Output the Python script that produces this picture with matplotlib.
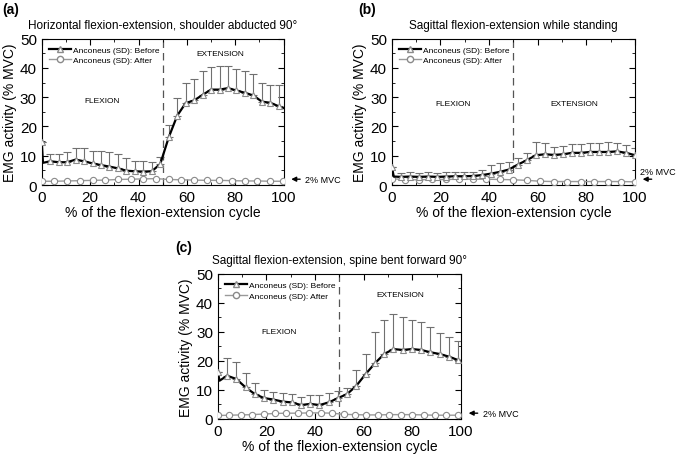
import matplotlib
matplotlib.use("Agg")
import matplotlib.pyplot as plt
from matplotlib.ticker import MultipleLocator
import numpy as np

plt.rcParams['font.family'] = ['Liberation Sans', 'DejaVu Sans']

# ============================ DATA ============================
# (a) horizontal flexion-extension, shoulder abducted 90
a_before_x = np.arange(29) * 3.5
a_before = [14.6, 8.1, 7.8, 7.8, 8.7, 8.1, 7.4, 6.8, 6.3, 5.7, 4.9, 4.7, 4.6, 4.7, 7.2,
            16.3, 23.7, 28.0, 28.9, 30.8, 32.6, 32.6, 33.1, 32.3, 31.5, 30.6, 28.5, 28.1, 26.9]
a_sd = [0, 2.5, 2.8, 3.6, 4.0, 4.6, 4.3, 4.9, 4.9, 4.9, 4.2, 3.6, 3.7, 3.1, 2.3,
        4.2, 6.0, 6.8, 7.4, 8.0, 7.7, 7.9, 7.4, 7.2, 7.4, 7.4, 6.4, 6.1, 7.3]
a_dip = (0.5, 7.6)
a_end = 26.3
a_after_x = np.linspace(0, 99.7, 20)
a_after = [1.3, 1.3, 1.4, 1.5, 1.6, 1.7, 1.9, 2.0, 2.1, 2.2,
           1.9, 1.8, 1.7, 1.6, 1.6, 1.5, 1.4, 1.4, 1.3, 1.3]

# (b) sagittal flexion-extension while standing
b_before_x = np.linspace(0, 100, 28)
b_before = [6.3, 2.8, 2.9, 2.8, 2.9, 2.8, 2.9, 3.0, 3.0, 3.1, 3.4, 3.9, 4.5, 5.3,
            7.0, 8.5, 10.2, 10.5, 10.3, 10.5, 11.0, 11.0, 11.3, 11.3, 11.3, 11.5, 11.0, 10.2]
b_sd = [0, 1.4, 1.4, 1.4, 1.4, 1.4, 1.4, 1.4, 1.4, 1.4, 1.6, 2.8, 3.2, 2.6,
        2.4, 2.3, 4.4, 3.8, 2.6, 2.9, 2.9, 2.9, 3.2, 3.2, 3.4, 2.8, 2.6, 2.5]
b_dip = (0.8, 2.9)
b_end = 10.2
b_after_x = np.linspace(0, 100, 19)
b_after = [2.2, 1.8, 1.8, 1.9, 1.9, 2.0, 2.0, 2.0, 1.9, 1.8,
           1.6, 1.3, 1.2, 1.2, 1.2, 1.2, 1.2, 1.2, 1.1]

# (c) sagittal flexion-extension, spine bent forward 90
c_before_x = np.arange(27) * 3.8
c_before = [16.1, 14.9, 13.8, 10.9, 8.6, 7.2, 6.7, 6.0, 5.7, 4.8, 5.2, 4.8, 5.7, 7.2,
            8.6, 11.5, 15.5, 19.2, 22.4, 24.1, 23.8, 24.1, 23.8, 23.0, 22.4, 21.5, 20.3]
c_sd = [0, 6.0, 6.0, 5.0, 3.7, 2.9, 2.5, 3.0, 2.9, 2.9, 3.2, 3.5, 3.2, 2.6,
        2.0, 5.4, 6.9, 10.7, 11.7, 12.1, 11.5, 10.0, 9.8, 8.6, 7.2, 6.9, 6.7]
c_dip = (0.7, 13.2)
c_end = 20.0
c_after_x = np.linspace(0, 98.7, 22)
c_after = [1.2, 1.3, 1.4, 1.5, 1.7, 1.9, 2.0, 2.0, 2.1, 2.1, 2.0,
           1.6, 1.5, 1.4, 1.4, 1.5, 1.5, 1.5, 1.4, 1.3, 1.3, 1.3]

panels = [
    ("(a)", "Horizontal flexion-extension, shoulder abducted 90°",
     a_before_x, a_before, a_sd, a_dip, a_end, a_after_x, a_after,
     [0.061, 0.592, 0.353, 0.321], (25, 29), (74, 45), "side", (-0.165, 1.2)),
    ("(b)", "Sagittal flexion-extension while standing",
     b_before_x, b_before, b_sd, b_dip, b_end, b_after_x, b_after,
     [0.572, 0.592, 0.355, 0.321], (25, 28), (75, 28), "above", (-0.14, 1.2)),
    ("(c)", "Sagittal flexion-extension, spine bent forward 90°",
     c_before_x, c_before, c_sd, c_dip, c_end, c_after_x, c_after,
     [0.318, 0.079, 0.355, 0.318], (25, 30), (75, 43), "side", (-0.177, 1.185)),
]

fig = plt.figure(figsize=(6.85, 4.56), dpi=100)

for (lab, title, bx, by, sd, dip, end, ax_x, ay, rect, flex_pos, ext_pos, mvc, lab_pos) in panels:
    ax = fig.add_axes(rect)
    line_x = [bx[0], dip[0]] + list(bx[1:]) + [100]
    line_y = [by[0], dip[1]] + list(by[1:]) + [end]

    ax.errorbar(bx, by, yerr=[np.zeros(len(sd)), sd], fmt='none', ecolor='#707070',
                elinewidth=0.8, capsize=3, capthick=0.8, zorder=2)
    ax.plot(ax_x, ay, color='#9a9a9a', lw=1.0, marker='o', ms=4.5,
            mfc='white', mec='#8a8a8a', mew=0.8, zorder=3)
    ax.plot(line_x, line_y, color='black', lw=1.6, zorder=4)
    ax.plot(bx, by, ls='none', marker='^', ms=5, mfc='white', mec='#8a8a8a',
            mew=0.8, zorder=5)

    # legend entries
    ax.plot([], [], color='black', lw=1.6, marker='^', ms=5, mfc='white', mec='#8a8a8a',
            label='Anconeus (SD): Before')
    ax.plot([], [], color='#9a9a9a', lw=1.0, marker='o', ms=4.5, mfc='white', mec='#8a8a8a',
            label='Anconeus (SD): After')
    ax.legend(loc='upper left', frameon=False, fontsize=6, handlelength=2.6,
              handletextpad=0.3, borderaxespad=0.5, labelspacing=0.3)

    ax.axvline(50, color='#555555', lw=0.9, ls=(0, (6, 4)), zorder=1)
    ax.text(*flex_pos, 'FLEXION', fontsize=6, ha='center', va='center')
    ax.text(*ext_pos, 'EXTENSION', fontsize=6, ha='center', va='center')

    ax.set_xlim(0, 100)
    ax.set_ylim(0, 50)
    ax.xaxis.set_major_locator(MultipleLocator(20))
    ax.xaxis.set_minor_locator(MultipleLocator(10))
    ax.yaxis.set_major_locator(MultipleLocator(10))
    ax.yaxis.set_minor_locator(MultipleLocator(5))
    ax.tick_params(which='both', direction='in', top=True, right=True, labelsize=11)
    ax.tick_params(which='major', length=4)
    ax.tick_params(which='minor', length=2)
    ax.set_xlabel('% of the flexion-extension cycle', fontsize=10, labelpad=1)
    ax.set_ylabel('EMG activity (% MVC)', fontsize=10, labelpad=2)
    ax.set_title(title, fontsize=8.5, pad=8)
    for s in ax.spines.values():
        s.set_linewidth(0.8)

    ax.text(lab_pos[0], lab_pos[1], lab, transform=ax.transAxes, fontsize=10,
            fontweight='bold', ha='left', va='center')

    tr = ax.get_yaxis_transform()
    ax.annotate('', xy=(1.02, 2), xycoords=tr, xytext=(1.08, 2), textcoords=tr,
                arrowprops=dict(arrowstyle='-|>', color='black', lw=1.0,
                                mutation_scale=7), annotation_clip=False)
    if mvc == 'side':
        ax.text(1.09, 2, '2% MVC', transform=tr, fontsize=6.5, va='center', ha='left',
                clip_on=False)
    else:
        ax.text(1.02, 4.5, '2% MVC', transform=tr, fontsize=6.5, va='center', ha='left',
                clip_on=False)

fig.savefig('out.png', dpi=100)
